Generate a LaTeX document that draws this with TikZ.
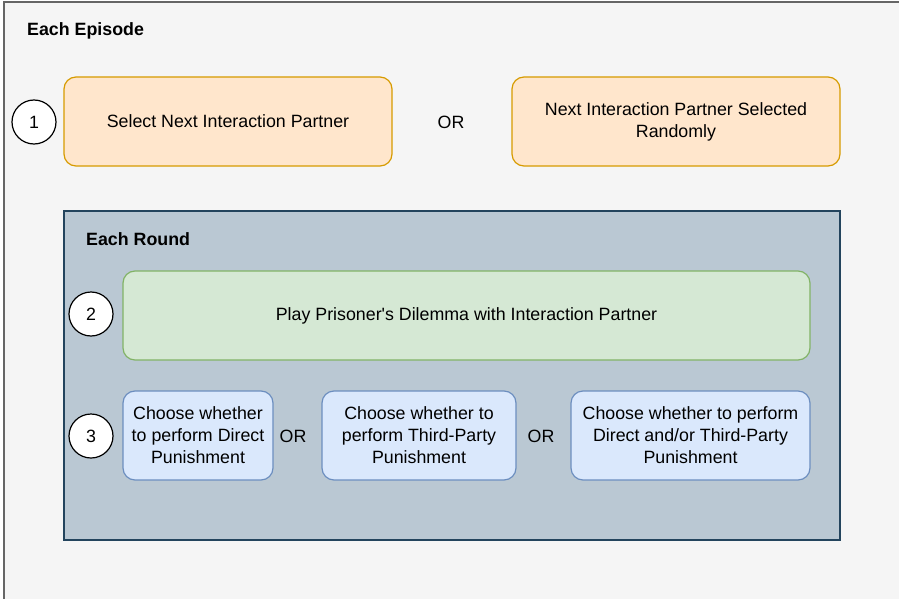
\documentclass[tikz,border=0pt]{standalone}
\usepackage{fontspec}
\setmainfont{Liberation Sans}
\newfontfamily\plainarial{Liberation Sans}
\definecolor{outerfill}{HTML}{F5F5F5}
\definecolor{outerline}{HTML}{666666}
\definecolor{orfill}{HTML}{FFE6CC}
\definecolor{orline}{HTML}{D79B00}
\definecolor{roundfill}{HTML}{BAC8D3}
\definecolor{roundline}{HTML}{23445D}
\definecolor{grfill}{HTML}{D5E8D4}
\definecolor{grline}{HTML}{82B366}
\definecolor{blfill}{HTML}{DAE8FC}
\definecolor{blline}{HTML}{6C8EBF}
\tikzset{
  box/.style={rounded corners=12pt, line width=1.2pt, align=center, font=\fontsize{17.8}{22}\selectfont, inner sep=0pt},
  orbox/.style={box, draw=orline, fill=orfill},
  grbox/.style={box, draw=grline, fill=grfill},
  blbox/.style={box, draw=blline, fill=blfill},
  stepcirc/.style={circle, draw=black, fill=white, line width=1.2pt, minimum size=44pt, inner sep=0pt, font=\fontsize{17.8}{20}\selectfont},
  ortext/.style={font=\fontsize{17.8}{20}\selectfont, inner sep=0pt},
  title/.style={font=\bfseries\fontsize{17.8}{20}\selectfont, anchor=west, inner sep=0pt},
}
\begin{document}
\begin{tikzpicture}[x=1pt,y=-1pt]
\useasboundingbox (0,0) rectangle (899,599);
\clip (0,0) rectangle (899,599);
\fill[white] (0,0) rectangle (899,599);
\draw[fill=outerfill, draw=outerline, line width=1.2pt] (4,2) rectangle (910,610);
\node[title] (ep) at (27,30.5) {Each Episode};
\node[stepcirc] (c1) at (34,122) {1};
\node[orbox, minimum width=328pt, minimum height=89pt] (sel) at (228,121.5) {Select Next Interaction Partner};
\node[ortext] (or1) at (451,122) {OR};
\node[orbox, minimum width=328pt, minimum height=89pt] (rnd) at (676,121.5) {Next Interaction Partner Selected\\Randomly};
\draw[fill=roundfill, draw=roundline, line width=1.2pt] (64,211) rectangle (840,540);
\node[title] (er) at (86,239.5) {Each Round};
\node[stepcirc] (c2) at (91,314) {2};
\node[grbox, minimum width=687pt, minimum height=89pt] (pd) at (466.5,315.5) {Play Prisoner{\plainarial'}s Dilemma with Interaction Partner};
\node[stepcirc] (c3) at (91,436) {3};
\node[blbox, minimum width=150pt, minimum height=89pt] (pa) at (198,435.5) {Choose whether\\to perform Direct\\Punishment};
\node[ortext] (or2) at (293,436) {OR};
\node[blbox, minimum width=194pt, minimum height=89pt] (pb) at (419,435.5) {Choose whether to\\perform Third-Party\\Punishment};
\node[ortext] (or3) at (541,436) {OR};
\node[blbox, minimum width=239pt, minimum height=89pt] (pc) at (690.5,435.5) {Choose whether to perform\\Direct and/or Third-Party\\Punishment};
\end{tikzpicture}
\end{document}
